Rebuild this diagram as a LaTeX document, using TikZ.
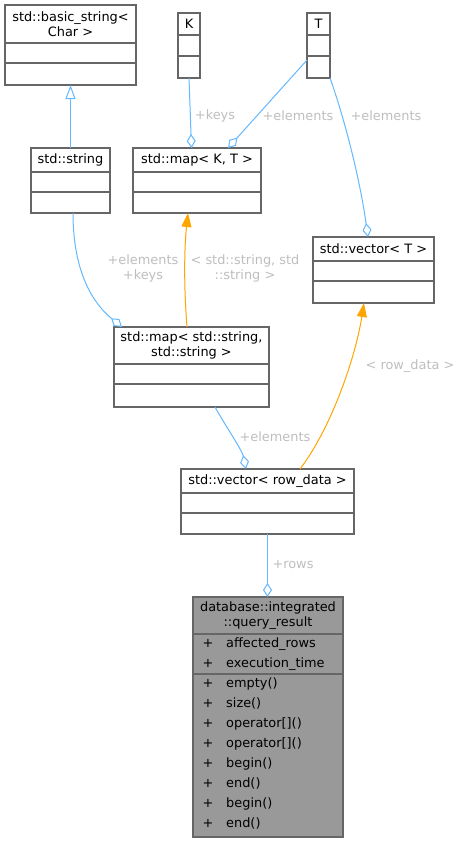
\documentclass[tikz,border=0pt]{standalone}
\usepackage{fontspec}
\setmainfont{DejaVu Sans}
\usetikzlibrary{arrows.meta, positioning}
\definecolor{edgeblue}{HTML}{63B8FF}
\definecolor{edgeorange}{HTML}{FFA500}
\definecolor{labelgrey}{HTML}{BEBEBE}
\definecolor{boxgrey}{HTML}{666666}
\definecolor{mainfill}{HTML}{999999}
\newcommand*{\umlclass}[8][white]{%
  \node[classbox, fill=#1, minimum width=#4, minimum height={#5+#6+#7}, anchor=north west] (#2) at #3 {};
  \node[classtitle] (#2_title) at ([yshift=-#5/2]#2.north) {#8};
  \draw[classline] ([yshift=-#5]#2.north west) -- ([yshift=-#5]#2.north east);
  \draw[classline] ([yshift=-#5-#6]#2.north west) -- ([yshift=-#5-#6]#2.north east);
}

\begin{document}
\begin{tikzpicture}[
        x=1pt, y=-1pt,
        every node/.style={font=\fontsize{12.9}{15}\selectfont},
        classbox/.style={draw=boxgrey, line width=1.2pt, inner sep=0pt, outer sep=0pt},
        classtitle/.style={align=center, inner sep=0pt},
        classline/.style={draw=boxgrey, line width=1.2pt},
        member/.style={anchor=west, inner sep=0pt, text height=11.5pt, text depth=2pt},
        elabel/.style={text=labelgrey, align=center, inner sep=0pt},
        aggr/.style={draw=edgeblue, line width=1pt, -{Diamond[open, length=14pt, width=9pt]}},
        inherit/.style={draw=edgeblue, line width=1pt, -{Triangle[open, length=14pt, width=10pt]}},
        tmpl/.style={draw=edgeorange, line width=1pt, -{Triangle[length=14pt, width=10pt]}}
        ]
        \useasboundingbox (0,0) rectangle (461,843);

        \umlclass{bstr}{(5,5)}{131}{38}{20}{22}{std::basic\_string<\\Char >}
        \umlclass{K}{(178,13)}{22}{22}{21}{22}{K}
        \umlclass{T}{(307,13)}{23}{22}{21}{22}{T}
        \umlclass{str}{(31,148)}{79}{24}{20}{21}{std::string}
        \umlclass{mapKT}{(133,148)}{128}{24}{20}{21}{std::map< K, T >}
        \umlclass{vecT}{(313,237)}{121}{24}{20}{22}{std::vector< T >}
        \umlclass{mapSS}{(114,327)}{155}{37}{20}{23}{std::map< std::string,\\std::string >}
        \umlclass{vecRD}{(181,469)}{173}{24}{20}{21}{std::vector< row\_data >}
        \umlclass[mainfill]{qres}{(193,597)}{150}{37}{40}{163}{database::integrated\\::query\_result}

        \foreach \m [count=\i] in {affected\_rows, execution\_time}
          \node[member] (qres_attr\i) at (202.5, 623+20*\i) {\makebox[23.5pt][l]{+}\m};
        \foreach \m [count=\i] in {empty(), size(), {operator[]()}, {operator[]()}, begin(), end(), begin(), end()}
          \node[member] (qres_op\i) at (202.5, 663+20*\i) {\makebox[23.5pt][l]{+}\m};

        \draw[inherit] (str.north) -- (bstr.south);
        \draw[aggr] (K.south) -- ([xshift=-5.5]mapKT.north);
        \draw[aggr] ([yshift=18]T.south west) -- ([xshift=31]mapKT.north);
        \draw[aggr] (T.south east) .. controls (345,120) and (360,180) .. ([xshift=-5.5]vecT.north);
        \draw[aggr] ([xshift=2.5]str.south) .. controls (73,275) and (95,305) .. ([xshift=-69.5]mapSS.north);
        \draw[tmpl] ([xshift=-4.5]mapSS.north) .. controls (184,290) and (184,250) .. ([xshift=-9]mapKT.south);
        \draw[aggr] ([xshift=23.5]mapSS.south) .. controls (225,425) and (242,450) .. ([xshift=-21.5]vecRD.north);
        \draw[tmpl] ([xshift=32.5]vecRD.north) .. controls (330,430) and (355,360) .. ([xshift=-9.5]vecT.south);
        \draw[aggr] (vecRD.south) -- (vecRD.south |- qres.north);

        \node[elabel] (l_keys)     at (215,116) {+keys};
        \node[elabel] (l_elem_map) at (298,116) {+elements};
        \node[elabel] (l_elem_vec) at (386,116) {+elements};
        \node[elabel] (l_str_map)  at (143,268) {+elements\\+keys};
        \node[elabel] (l_tmpl_map) at (245,268) {< std::string, std\\::string >};
        \node[elabel] (l_tmpl_vec) at (410,366) {< row\_data >};
        \node[elabel] (l_elem_rd)  at (275,437) {+elements};
        \node[elabel] (l_rows)     at (293,565) {+rows};
\end{tikzpicture}
\end{document}
